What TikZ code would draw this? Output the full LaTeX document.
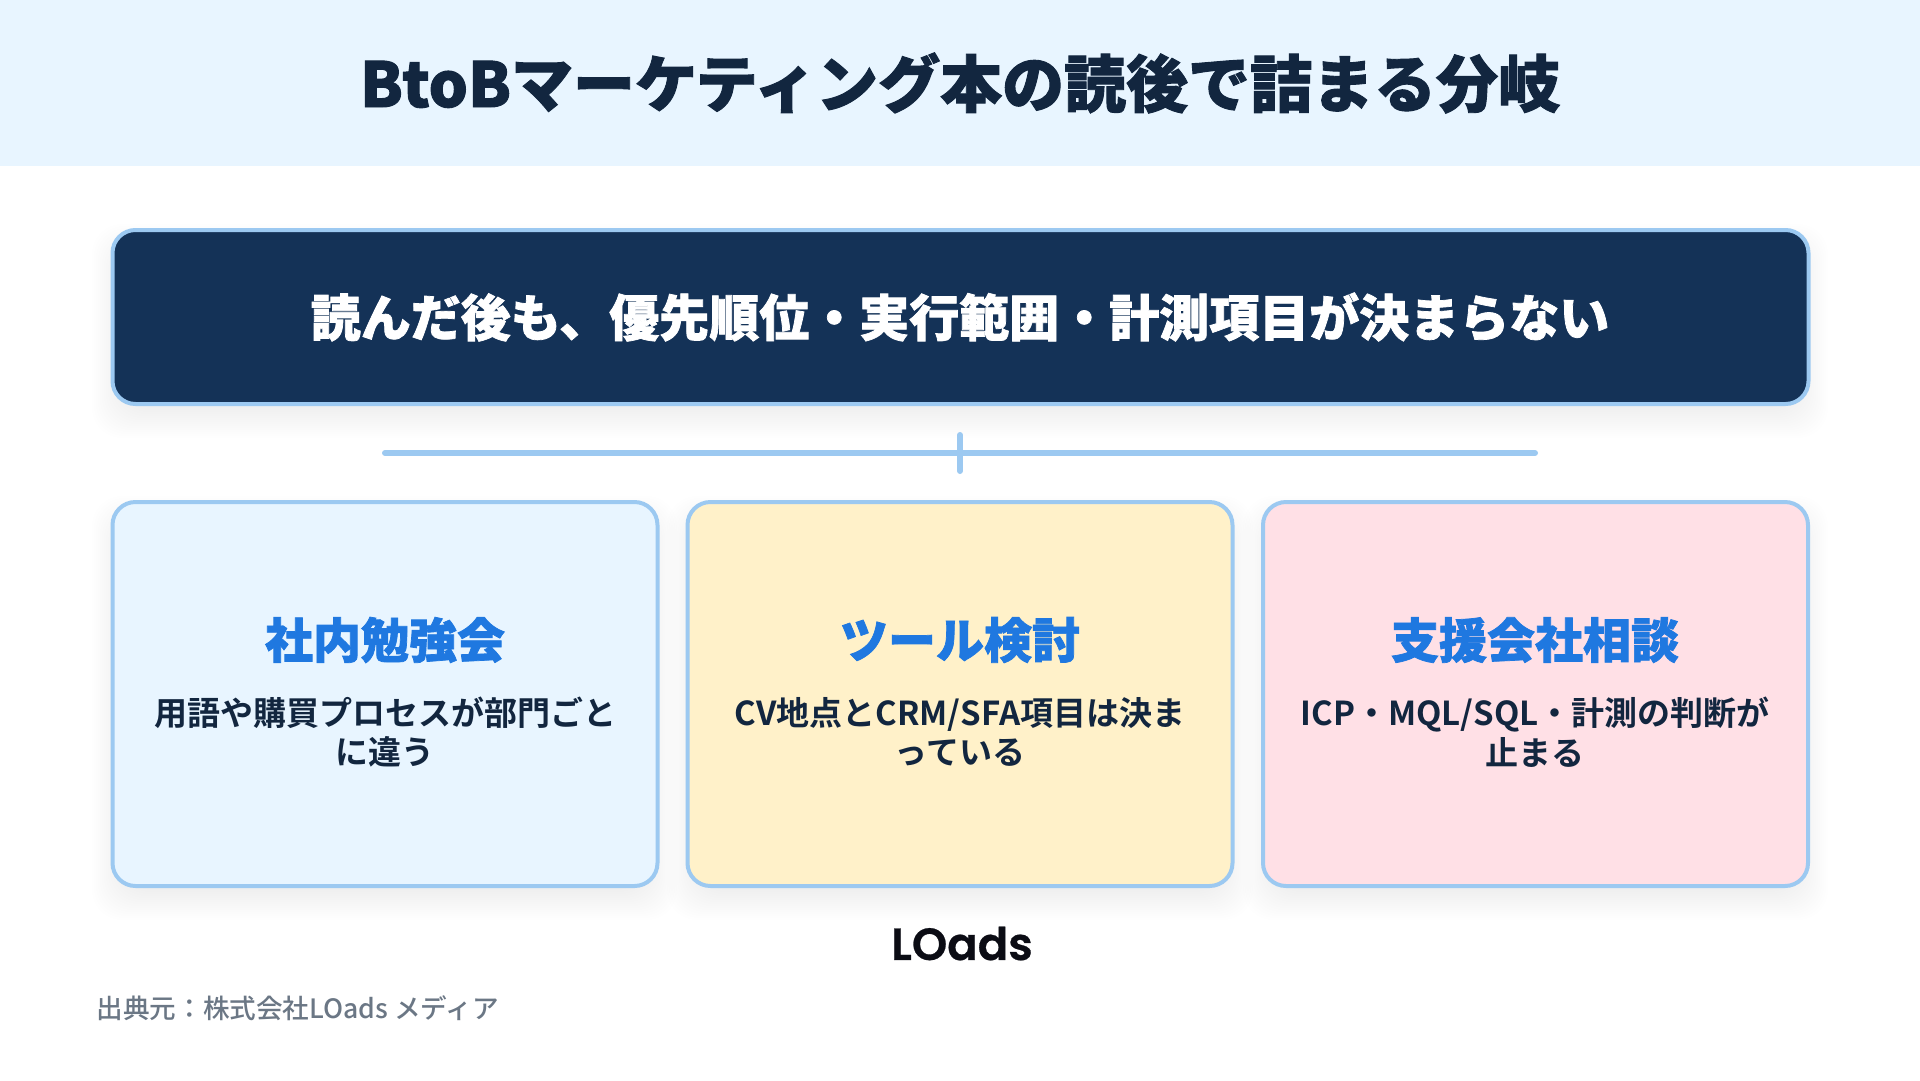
\documentclass[tikz,border=0pt]{standalone}
\usepackage{fontspec}
\setmainfont{Noto Sans CJK JP}[BoldFont={Noto Sans CJK JP Bold}]
\newfontfamily\heavyfont{Noto Sans CJK JP Black}[RawFeature={embolden=1.5}]
\newfontfamily\boldfont{Noto Sans CJK JP Bold}
\newfontfamily\medfont{Noto Sans CJK JP Medium}
\newfontfamily\logofont{Poppins SemiBold}[RawFeature={embolden=0.6}]
\definecolor{headbg}{HTML}{E8F5FF}
\definecolor{navy}{HTML}{143257}
\definecolor{edge}{HTML}{9CC9F1}
\definecolor{inktitle}{HTML}{12263F}
\definecolor{accent}{HTML}{1F78E0}
\definecolor{cardblue}{HTML}{E8F5FF}
\definecolor{cardyellow}{HTML}{FFF1C9}
\definecolor{cardpink}{HTML}{FFE0E6}
\definecolor{footgray}{HTML}{6B7785}
\definecolor{logoink}{HTML}{0B0C14}
\newcommand{\softshadow}[4]{%
  \foreach \e in {-20,-18,...,20}{%
    \fill[navy,opacity=0.0035,rounded corners=30pt]
      (#1-\e,#2+14-\e) rectangle (#3+\e,#4+14+\e);
  }}
\tikzset{
  x=1pt,y=-1pt,
  panel/.style={draw=edge,line width=4pt,rounded corners=23pt,inner sep=0pt,outer sep=0pt,anchor=north west},
  cardtitle/.style={text=accent,font=\heavyfont\fontsize{48}{56}\selectfont,anchor=center,inner sep=0pt},
  cardbody/.style={text=inktitle,font=\boldfont\fontsize{33}{39.5}\selectfont,align=center,anchor=center,inner sep=0pt},
  linkline/.style={draw=edge,line width=6pt,line cap=round},
}
\begin{document}
\begin{tikzpicture}
\useasboundingbox (0,0) rectangle (1920,1080);
\fill[white] (0,0) rectangle (1920,1080);
\node[fill=headbg,minimum width=1920pt,minimum height=166pt,inner sep=0pt,outer sep=0pt,anchor=north west] (header) at (0,0) {};
\node[text=inktitle,font=\heavyfont\fontsize{62}{72}\selectfont,inner sep=0pt] (title) at (960,83) {BtoBマーケティング本の読後で詰まる分岐};

\softshadow{112}{230}{1808}{404}
\softshadow{112}{502}{657}{886}
\softshadow{687}{502}{1233}{886}
\softshadow{1263}{502}{1808}{886}

\node[panel,fill=navy,minimum width=1696pt,minimum height=174pt] (main) at (112.5,230) {};
\node[text=white,font=\heavyfont\fontsize{50}{60}\selectfont,inner sep=0pt] (maintext) at (960,317) {読んだ後も、優先順位・実行範囲・計測項目が決まらない};

\coordinate (hl) at (385,453);
\coordinate (hr) at (1535,453);
\coordinate (vt) at (960,435);
\coordinate (vb) at (960,471);
\draw[linkline] (hl) -- (hr);
\draw[linkline] (vt) -- (vb);

\node[panel,fill=cardblue,minimum width=545pt,minimum height=384pt] (c1) at (112.5,502) {};
\node[panel,fill=cardyellow,minimum width=545pt,minimum height=384pt] (c2) at (687.5,502) {};
\node[panel,fill=cardpink,minimum width=545pt,minimum height=384pt] (c3) at (1263,502) {};

\node[cardtitle] (t1) at (385,640) {社内勉強会};
\node[cardtitle] (t2) at (960,640) {ツール検討};
\node[cardtitle] (t3) at (1535,640) {支援会社相談};
\node[cardbody] (b1) at (385,732) {用語や購買プロセスが部門ごと\\に違う};
\node[cardbody] (b2) at (960,732) {CV地点とCRM/SFA項目は決ま\\っている};
\node[cardbody] (b3) at (1535,732) {ICP・MQL/SQL・計測の判断が\\止まる};

\node[text=logoink,font=\logofont\fontsize{45}{50}\selectfont,inner sep=0pt] (logo) at (962,943.5) {LOads};
\node[text=footgray,font=\medfont\fontsize{26.6}{32}\selectfont,inner sep=0pt,anchor=west] (src) at (96.5,1008) {出典元：株式会社LOads メディア};
\end{tikzpicture}
\end{document}
